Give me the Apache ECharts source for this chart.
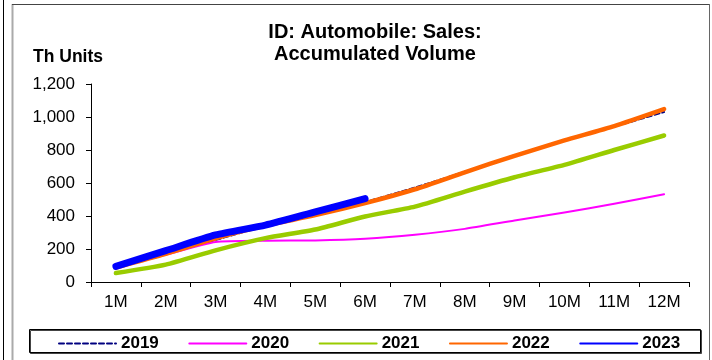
<!DOCTYPE html>
<html>
<head>
<meta charset="utf-8">
<script src="https://cdn.jsdelivr.net/npm/echarts@6/dist/echarts.min.js"></script>
<style>
  html, body { margin: 0; padding: 0; background: #fff; }
  #chart { width: 712px; height: 360px; }
</style>
</head>
<body>
<div id="chart"></div>
<script>
// Cumulative monthly automobile sales, thousand units
const months = ['1M', '2M', '3M', '4M', '5M', '6M', '7M', '8M', '9M', '10M', '11M', '12M'];
const sales2019 = [85, 170, 255, 340, 410, 485, 572, 668, 768, 858, 942, 1030];
const sales2020 = [90, 165, 242, 250, 252, 262, 286, 322, 373, 421, 474, 532];
const sales2021 = [54, 105, 192, 266, 318, 397, 457, 548, 635, 710, 800, 888];
const sales2022 = [88, 170, 265, 342, 405, 478, 562, 665, 765, 858, 945, 1048];
const sales2023 = [95, 190, 285, 345, 425, 505];
const yTicks = [0, 200, 400, 600, 800, 1000, 1200];

const FONT = '"Liberation Sans", Arial, sans-serif';
const chart = echarts.init(document.getElementById('chart'), null, { renderer: 'canvas' });

function lineSeries(name, data, color, width, type) {
  return {
    name: name,
    type: 'line',
    data: data,
    symbol: 'none',
    smooth: 0.2,
    lineStyle: { color: color, width: width, type: type || 'solid', cap: 'round', join: 'round' },
    itemStyle: { color: color },
    emphasis: { disabled: true }
  };
}

chart.setOption({
  animation: false,
  backgroundColor: '#fff',
  title: {
    text: 'ID: Automobile: Sales:\nAccumulated Volume',
    left: 370,
    top: 16,
    textAlign: 'center',
    textStyle: { fontFamily: FONT, fontSize: 20, fontWeight: 'bold', color: '#000', lineHeight: 22 }
  },
  graphic: [
    { type: 'line', shape: { x1: 3.5, y1: 0, x2: 3.5, y2: 360 }, style: { stroke: '#000', lineWidth: 1 } },
    { type: 'line', shape: { x1: 12.5, y1: 4, x2: 12.5, y2: 360 }, style: { stroke: '#aaa', lineWidth: 2 } },
    { type: 'line', shape: { x1: 12, y1: 4.5, x2: 710, y2: 4.5 }, style: { stroke: '#444', lineWidth: 1 } },
    { type: 'line', shape: { x1: 709.5, y1: 4, x2: 709.5, y2: 360 }, style: { stroke: '#666', lineWidth: 1 } },
    {
      type: 'rect', z: 1,
      shape: { x: 29.5, y: 329.5, width: 671, height: 23 },
      style: { fill: '#fff', stroke: '#000', lineWidth: 1, shadowColor: '#444', shadowOffsetX: 1, shadowOffsetY: 1, shadowBlur: 0 }
    },
    {
      type: 'text', left: 33, top: 48,
      style: { text: 'Th Units', fontFamily: FONT, fontSize: 17.5, fontWeight: 'bold', fill: '#000' }
    }
  ],
  legend: {
    left: 53,
    top: 330,
    itemWidth: 57,
    itemHeight: 10,
    itemGap: 29.5,
    z: 5,
    itemStyle: { opacity: 0 },
    textStyle: { fontFamily: FONT, fontSize: 17, fontWeight: 'bold', color: '#000' },
    data: ['2019', '2020', '2021', '2022', '2023']
  },
  grid: { left: 91, right: 23, top: 84, bottom: 78, containLabel: false },
  xAxis: {
    type: 'category',
    data: months,
    boundaryGap: true,
    axisLine: { lineStyle: { color: '#000', width: 1 } },
    axisTick: { show: true, length: 5, lineStyle: { color: '#000' } },
    axisLabel: { fontFamily: FONT, fontSize: 17, color: '#000', margin: 12 },
    splitLine: { show: false }
  },
  yAxis: {
    type: 'value',
    min: yTicks[0],
    max: yTicks[yTicks.length - 1],
    interval: yTicks[1] - yTicks[0],
    axisLine: { show: true, lineStyle: { color: '#000', width: 1 } },
    axisTick: { show: true, length: 5, lineStyle: { color: '#000' } },
    axisLabel: {
      fontFamily: FONT, fontSize: 17, color: '#000', margin: 16,
      formatter: v => v.toLocaleString('en-US')
    },
    splitLine: { show: false }
  },
  series: [
    lineSeries('2019', sales2019, '#000080', 2, [5, 3]),
    lineSeries('2020', sales2020, '#FF00FF', 2),
    lineSeries('2021', sales2021, '#99CC00', 4.5),
    lineSeries('2022', sales2022, '#FF6600', 4.5),
    lineSeries('2023', sales2023, '#0000FF', 7)
  ]
});
</script>
</body>
</html>
